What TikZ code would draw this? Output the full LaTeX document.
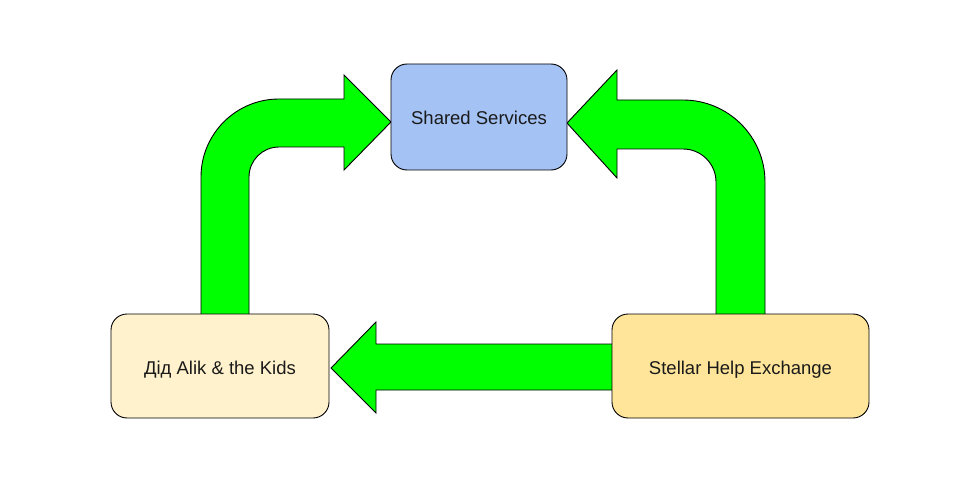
\documentclass[tikz,border=0pt]{standalone}
\usepackage{fontspec}
\setmainfont{Liberation Sans}
\definecolor{arrowgreen}{HTML}{00FF00}
\definecolor{boxblue}{HTML}{A4C2F4}
\definecolor{boxcream}{HTML}{FFF2CC}
\definecolor{boxyellow}{HTML}{FFE599}
\definecolor{textdark}{HTML}{1A1A1A}
\begin{document}
\begin{tikzpicture}[x=1pt,y=1pt,
  blockarrow/.style={fill=arrowgreen,draw=black,line width=0.9pt,line join=miter},
  box/.style={draw=black,line width=0.9pt,rounded corners=16pt,inner sep=0pt,
    text=textdark,font=\fontsize{18.5}{22}\selectfont,align=center},
  lbl/.style={text=textdark,font=\fontsize{18.5}{22}\selectfont,inner sep=0pt}]
\useasboundingbox (0,0) rectangle (959,483);
% block arrows
\draw[blockarrow] (201,168) -- (201,306) arc[start angle=180,end angle=90,radius=78]
  -- (344,384) -- (344,408) -- (391,361) -- (344,313) -- (344,336) -- (279,336)
  arc[start angle=90,end angle=180,radius=30] -- (249,168) -- cycle;
\draw[blockarrow] (765,168) -- (765,301) arc[start angle=0,end angle=90,radius=82]
  -- (617,383) -- (617,413) -- (567,360) -- (617,305) -- (617,334) -- (683,334)
  arc[start angle=90,end angle=0,radius=33] -- (716,168) -- cycle;
\draw[blockarrow] (613,139) -- (376,139) -- (376,161) -- (331,115) -- (376,70)
  -- (376,93) -- (613,93) -- cycle;
% boxes
\node[box,fill=boxblue,minimum width=176pt,minimum height=106pt] (shared) at (479,366) {};
\node[box,fill=boxcream,minimum width=218pt,minimum height=104pt] (kids) at (220,117) {};
\node[box,fill=boxyellow,minimum width=257pt,minimum height=104pt] (stellar) at (740.5,117) {};
\node[lbl] (sharedlbl) at ([yshift=-1pt]shared.center) {Shared Services};
\node[lbl] (kidslbl) at ([yshift=-4pt]kids.center) {Дід Alik \& the Kids};
\node[lbl] (stellarlbl) at ([yshift=-4pt]stellar.center) {Stellar Help Exchange};
\end{tikzpicture}
\end{document}
